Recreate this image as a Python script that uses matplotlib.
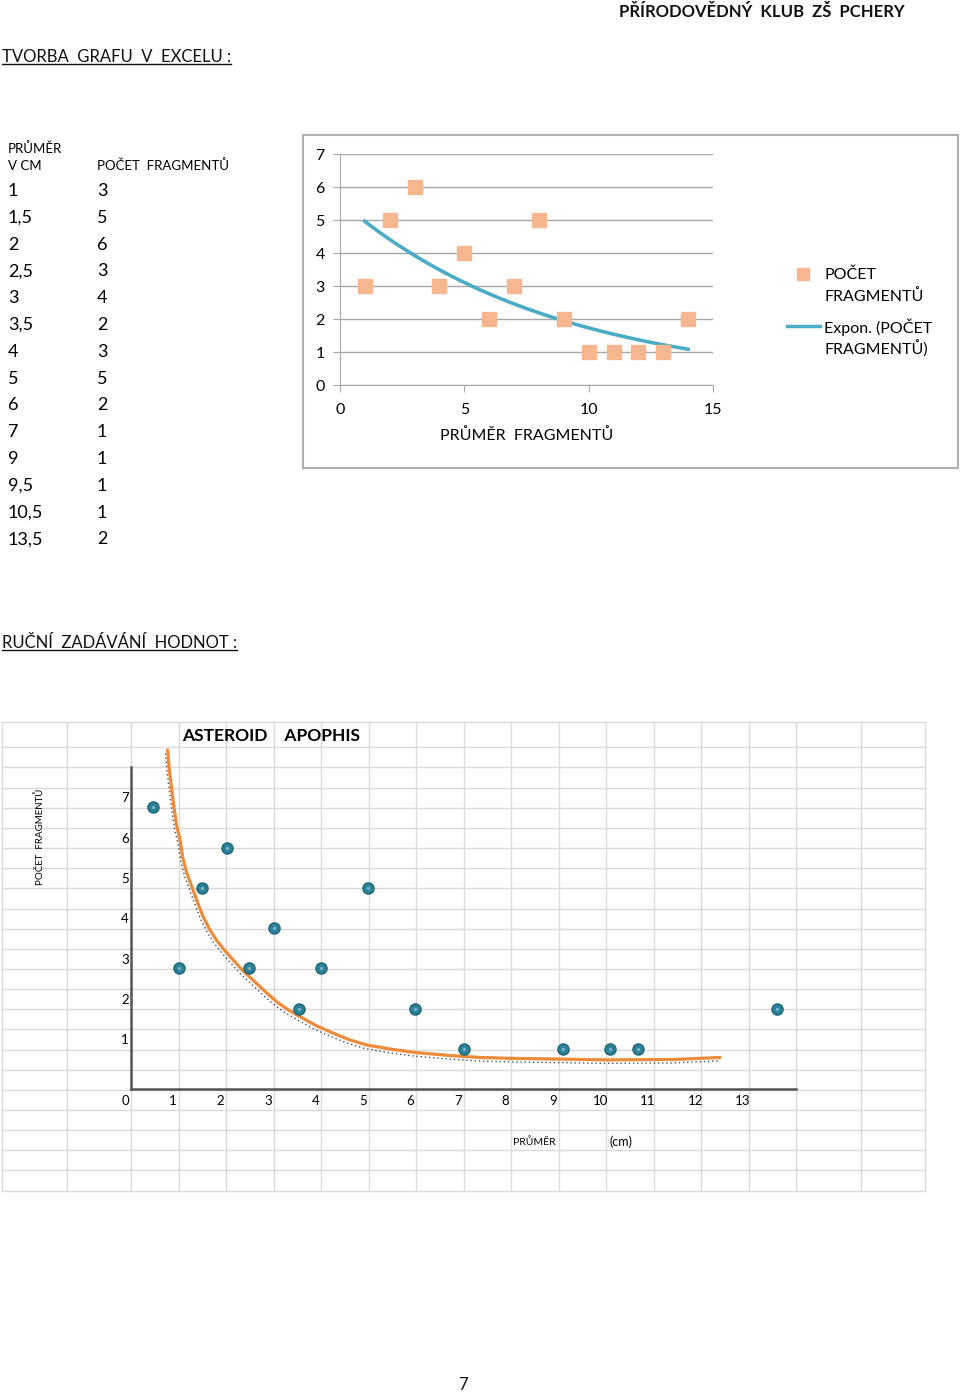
import numpy as np
import matplotlib
matplotlib.use("Agg")
import matplotlib.pyplot as plt
from matplotlib import transforms

plt.rcParams['font.family'] = ['Lato', 'DejaVu Sans']

W, H = 960, 1395

# --- table / top chart data (Excel treats x as categories 1..n) ---
table_diam = ["1", "1,5", "2", "2,5", "3", "3,5", "4", "5", "6", "7", "9", "9,5", "10,5", "13,5"]
table_count = [3, 5, 6, 3, 4, 2, 3, 5, 2, 1, 1, 1, 1, 2]

# --- hand-entered chart (bottom) ---
hand_x = [0.47, 1.0, 1.49, 2.02, 2.49, 3.02, 3.53, 4.0, 4.98, 5.98, 7.02, 9.09, 10.09, 10.68, 13.6]
hand_y = [7, 3, 5, 6, 3, 4, 2, 3, 5, 2, 1, 1, 1, 1, 2]
# hand-drawn orange curve
curve_x = [0.77, 0.81, 0.86, 0.91, 0.96, 1.03, 1.09, 1.17, 1.28, 1.40, 1.52, 1.65, 1.80,
           1.97, 2.15, 2.35, 2.57, 2.80, 3.07, 3.30, 3.56, 3.90, 4.26, 4.60, 4.96,
           5.50, 6.01, 6.70, 7.35, 7.91, 9.0, 10.0, 11.42, 12.4]
curve_y = [8.42, 7.90, 7.42, 6.95, 6.55, 6.20, 5.75, 5.38, 5.03, 4.64, 4.28, 3.98, 3.70,
           3.45, 3.21, 2.95, 2.71, 2.45, 2.17, 1.98, 1.80, 1.58, 1.39, 1.23, 1.10,
           0.99, 0.91, 0.84, 0.79, 0.77, 0.75, 0.73, 0.74, 0.79]
hand_xticks = list(range(0, 14))
hand_yticks = list(range(1, 8))

SQUARE = '#F5B690'
TREND = '#4BACC6'
DOT = '#2B8197'
GRID = '#DADADA'


def px_axes(fig, x0, y0, x1, y1):
    return fig.add_axes([x0 / W, 1 - y1 / H, (x1 - x0) / W, (y1 - y0) / H])


fig = plt.figure(figsize=(W / 100, H / 100), dpi=100)
bg = px_axes(fig, 0, 0, W, H)
bg.set_xlim(0, W)
bg.set_ylim(H, 0)
bg.axis('off')

# header + section titles
bg.text(905, 12, "PŘÍRODOVĚDNÝ  KLUB  ZŠ  PCHERY", ha='right', va='center',
        fontsize=12, fontweight='bold', color='#111111')
t1 = bg.text(2, 57, "TVORBA  GRAFU  V  EXCELU :", ha='left', va='center',
             fontsize=12, color='#111111')
t2 = bg.text(2, 643, "RUČNÍ  ZADÁVÁNÍ  HODNOT :", ha='left', va='center',
             fontsize=12, color='#111111')
bg.text(463, 1385, "7", ha='center', va='center', fontsize=12, color='#111111')

# table
bg.text(8, 149, "PRŮMĚR", ha='left', va='center', fontsize=9.5)
bg.text(8, 166, "V CM", ha='left', va='center', fontsize=9.5)
bg.text(97, 166, "POČET  FRAGMENTŮ", ha='left', va='center', fontsize=9.5)
for i, (d, c) in enumerate(zip(table_diam, table_count)):
    yy = 191 + i * 26.8
    bg.text(8, yy, d, ha='left', va='center', fontsize=13)
    bg.text(97, yy, str(c), ha='left', va='center', fontsize=13)

# top chart frame + legend
bg.add_patch(plt.Rectangle((303, 135), 655, 333, fill=False, edgecolor='#B0B0B0', lw=1.5))
bg.plot([803], [274], marker='s', ms=9, color=SQUARE, mec=SQUARE)
bg.text(824, 275, "POČET", ha='left', va='center', fontsize=11.5)
bg.text(824, 297, "FRAGMENTŮ", ha='left', va='center', fontsize=11.5)
bg.plot([787, 820], [326, 326], color=TREND, lw=2.5)
bg.text(824, 327, "Expon. (POČET", ha='left', va='center', fontsize=11.5)
bg.text(824, 349, "FRAGMENTŮ)", ha='left', va='center', fontsize=11.5)

# ---- top chart ----
ax = px_axes(fig, 340, 154, 713, 385)
xs = np.arange(1, len(table_count) + 1)
ys = np.array(table_count, dtype=float)
# exponential trendline as Excel fits it (least squares on ln y)
b, a = np.polyfit(xs, np.log(ys), 1)
tx = np.linspace(xs[0], xs[-1], 100)
ax.plot(tx, np.exp(a + b * tx), color=TREND, lw=2.6, zorder=3, clip_on=False)
ax.plot(xs, ys, 's', ms=9.5, color=SQUARE, mec=SQUARE, zorder=4, clip_on=False)
ax.set_xlim(0, 15)
ax.set_ylim(0, 7)
ax.set_xticks([0, 5, 10, 15])
ax.set_yticks(range(0, 8))
ax.yaxis.grid(True, color='#A8A8A8', lw=1)
ax.set_axisbelow(True)
for s in ['top', 'right']:
    ax.spines[s].set_visible(False)
for s in ['left', 'bottom']:
    ax.spines[s].set_color('#A8A8A8')
ax.tick_params(axis='y', length=5, color='#A8A8A8', labelsize=11.5, pad=6)
ax.tick_params(axis='x', length=5, color='#A8A8A8', labelsize=11.5, pad=8)
ax.set_xlabel("PRŮMĚR  FRAGMENTŮ", fontsize=11.5, labelpad=8)

# ---- bottom hand-drawn chart over spreadsheet grid ----
bx = px_axes(fig, 0, 720, 930, 1195)
x0px, ux = 131, 47.5
y0px, uy = 1089.3, 40.3
bx.set_xlim((0 - x0px) / ux, (930 - x0px) / ux)
bx.set_ylim((y0px - 1195) / uy, (y0px - 720) / uy)
bx.axis('off')

col_px = [2, 67] + [x0px + k * ux for k in range(15)] + [861, 925]
row_px = [722] + [747.3 + k * 20.15 for k in range(23)]
top_y = (y0px - 722) / uy
bot_y = (y0px - 1190) / uy
for c in col_px:
    xv = (c - x0px) / ux
    bx.plot([xv, xv], [bot_y, top_y], color=GRID, lw=1, zorder=0)
for r in row_px:
    yv = (y0px - r) / uy
    bx.plot([(2 - x0px) / ux, (925 - x0px) / ux], [yv, yv], color=GRID, lw=1, zorder=0)

# axes lines
bx.plot([0, 0], [0, 8.0], color='#555555', lw=1.8, zorder=2)
bx.plot([0, 14], [0, 0], color='#555555', lw=1.8, zorder=2)

# black dotted sketch under the curve
shadow = transforms.offset_copy(bx.transData, fig=fig, x=-1.5, y=-2.5, units='points')
bx.plot(curve_x, curve_y, color='black', lw=1.0, ls=(0, (1, 2)), alpha=0.7,
        transform=shadow, zorder=3)
bx.plot(curve_x, curve_y, color='#EE8B3A', lw=2.3, zorder=4, solid_capstyle='round',
        solid_joinstyle='round')
bx.plot(hand_x, hand_y, 'o', ms=8, color=DOT, mec='#1F6577', mew=1.0, zorder=5)
bx.plot(hand_x, hand_y, 'o', ms=2.5, color='#6FB3C4', mec='none', zorder=6)

for v in hand_xticks:
    bx.text(v - 0.12, -0.29, str(v), ha='center', va='center', fontsize=9.5)
for v in hand_yticks:
    bx.text(-0.13, v + 0.22, str(v), ha='center', va='center', fontsize=9.5)

bx.text(1.07, 8.77, "ASTEROID    APOPHIS", ha='left', va='center',
        fontsize=12.5, fontweight='bold')
bx.text(-1.92, 6.27, "POČET  FRAGMENTŮ", ha='center', va='center',
        rotation=90, fontsize=7)
bx.text(8.5, -1.31, "PRŮMĚR", ha='center', va='center', fontsize=7.5)
bx.text(10.32, -1.29, "(cm)", ha='center', va='center', fontsize=9)

# underline the section titles
fig.canvas.draw()
inv = bg.transData.inverted()
for t in (t1, t2):
    bb = t.get_window_extent()
    (ax0, ay0), (ax1, _) = inv.transform([(bb.x0, bb.y0), (bb.x1, bb.y1)])
    bg.plot([ax0, ax1], [ay0 - 1, ay0 - 1], color='#111111', lw=1)

fig.savefig("out.png", dpi=100)
